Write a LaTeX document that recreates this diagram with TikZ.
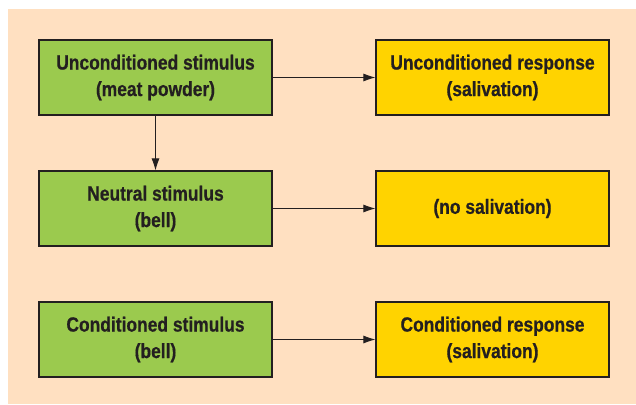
\documentclass[tikz,border=0pt]{standalone}
\usepackage{fontspec}
\setmainfont{Liberation Sans}[FakeStretch=0.85,BoldFeatures={FakeBold=0.6}]
\usepackage{xcolor}
\usetikzlibrary{arrows.meta}
\definecolor{peach}{HTML}{FFE0C1}
\definecolor{leaf}{HTML}{9BCA4E}
\definecolor{sun}{HTML}{FFD300}
\definecolor{ink}{HTML}{231F20}

\begin{document}
\begin{tikzpicture}[x=1pt,y=-1pt,>={Latex[length=12pt,width=8pt]},
  box/.style={draw=ink,line width=1.1pt,minimum width=233pt,minimum height=75pt,
    align=center,text=ink,font=\fontsize{20.5}{26.5}\selectfont\bfseries},
  stim/.style={box,fill=leaf}, resp/.style={box,fill=sun},
  link/.style={->,ink,line width=0.9pt}]
\useasboundingbox (0,0) rectangle (636,404);
\fill[peach] (8,9) rectangle (636,404);
% top row
\node[stim] (us) at (155.5,77.5) {Unconditioned stimulus\\(meat powder)};
\node[resp] (ur) at (492.5,77.5) {Unconditioned response\\(salivation)};
% middle row
\node[stim] (ns) at (155.5,208.5) {Neutral stimulus\\(bell)};
\node[resp] (nr) at (492.5,208.5) {(no salivation)};
% bottom row
\node[stim] (cs) at (155.5,339.5) {Conditioned stimulus\\(bell)};
\node[resp] (cr) at (492.5,339.5) {Conditioned response\\(salivation)};
\draw[link] (us) -- (ur);
\draw[link] (us) -- (ns);
\draw[link] (ns) -- (nr);
\draw[link] (cs) -- (cr);
\end{tikzpicture}
\end{document}
